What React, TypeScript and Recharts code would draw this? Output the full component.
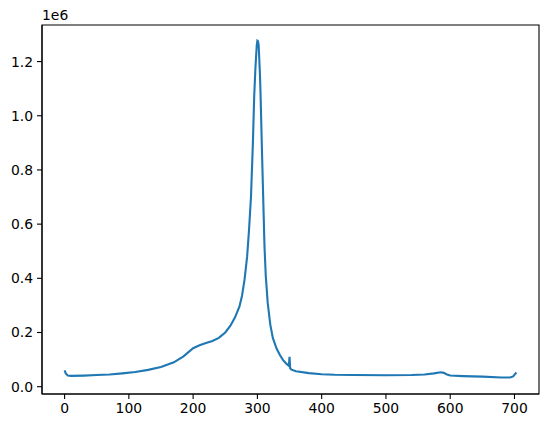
import { Line, LineChart, ReferenceArea, XAxis, YAxis } from "recharts";

// sample position along the x axis
const xValues = [
  0, 2, 5, 10, 30, 50, 70, 90, 110, 130, 150, 170, 185, 200, 210, 220, 230, 240, 250, 258,
  265, 272, 276, 280, 284, 287, 290, 293, 295, 297, 299, 300, 301, 302, 304, 305, 307, 309,
  311, 313, 316, 320, 324, 330, 335, 340, 345, 349, 350, 351, 353, 360, 380, 400, 420, 450,
  500, 540, 560, 575, 585, 590, 595, 600, 620, 650, 680, 693, 698, 701, 703,
];

// signal, in units of 1e6
const yValues = [
  0.06, 0.048, 0.041, 0.04, 0.041, 0.043, 0.045, 0.049, 0.054, 0.062, 0.073, 0.09, 0.112,
  0.142, 0.153, 0.161, 0.169, 0.18, 0.2, 0.225, 0.255, 0.295, 0.335, 0.395, 0.48, 0.58, 0.7,
  0.9, 1.07, 1.18, 1.26, 1.277, 1.275, 1.26, 1.15, 1.07, 0.88, 0.7, 0.52, 0.41, 0.31, 0.23,
  0.18, 0.14, 0.117, 0.098, 0.085, 0.077, 0.11, 0.068, 0.063, 0.057, 0.05, 0.046, 0.044,
  0.043, 0.042, 0.043, 0.045, 0.049, 0.053, 0.051, 0.045, 0.041, 0.039, 0.037, 0.034, 0.034,
  0.038, 0.047, 0.052,
];

const xTicks = [0, 100, 200, 300, 400, 500, 600, 700];
const yTicks = [0, 0.2, 0.4, 0.6, 0.8, 1.0, 1.2].map((v) => v * 1e6);

const data = xValues.map((x, i) => ({ x, y: yValues[i] * 1e6 }));

const X_DOMAIN: [number, number] = [-35.15, 738.15];
const Y_DOMAIN: [number, number] = [-0.027e6, 1.335e6];

const font = "'DejaVu Sans', sans-serif";
const tickStyle = { fontSize: 13.9, fill: "#000", fontFamily: font };

export default function App() {
  return (
    <div style={{ position: "absolute", left: 0, top: 0, width: 547, height: 428, background: "#fff" }}>
      <LineChart width={547} height={428} data={data} margin={{ top: 25, right: 8, bottom: 0, left: 0 }}>
        <XAxis
          dataKey="x"
          type="number"
          domain={X_DOMAIN}
          ticks={xTicks}
          allowDataOverflow
          height={34}
          tick={tickStyle}
          tickSize={5}
          tickMargin={4}
          tickLine={{ stroke: "#000", strokeWidth: 1.1 }}
          axisLine={{ stroke: "#000", strokeWidth: 1.1 }}
        />
        <YAxis
          type="number"
          domain={Y_DOMAIN}
          ticks={yTicks}
          allowDataOverflow
          width={42}
          tick={tickStyle}
          tickSize={5}
          tickMargin={4}
          tickFormatter={(v) => (v / 1e6).toFixed(1)}
          tickLine={{ stroke: "#000", strokeWidth: 1.1 }}
          axisLine={{ stroke: "#000", strokeWidth: 1.1 }}
        />
        <ReferenceArea
          x1={X_DOMAIN[0]}
          x2={X_DOMAIN[1]}
          y1={Y_DOMAIN[0]}
          y2={Y_DOMAIN[1]}
          fill="none"
          stroke="#000"
          strokeWidth={1.1}
          fillOpacity={0}
        />
        <Line
          dataKey="y"
          type="linear"
          stroke="#1f77b4"
          strokeWidth={2.1}
          dot={false}
          activeDot={false}
          isAnimationActive={false}
        />
      </LineChart>
      <div
        style={{
          position: "absolute",
          left: 42,
          top: 7,
          fontFamily: font,
          fontSize: 13.9,
          lineHeight: "16px",
          color: "#000",
        }}
      >
        1e6
      </div>
    </div>
  );
}
